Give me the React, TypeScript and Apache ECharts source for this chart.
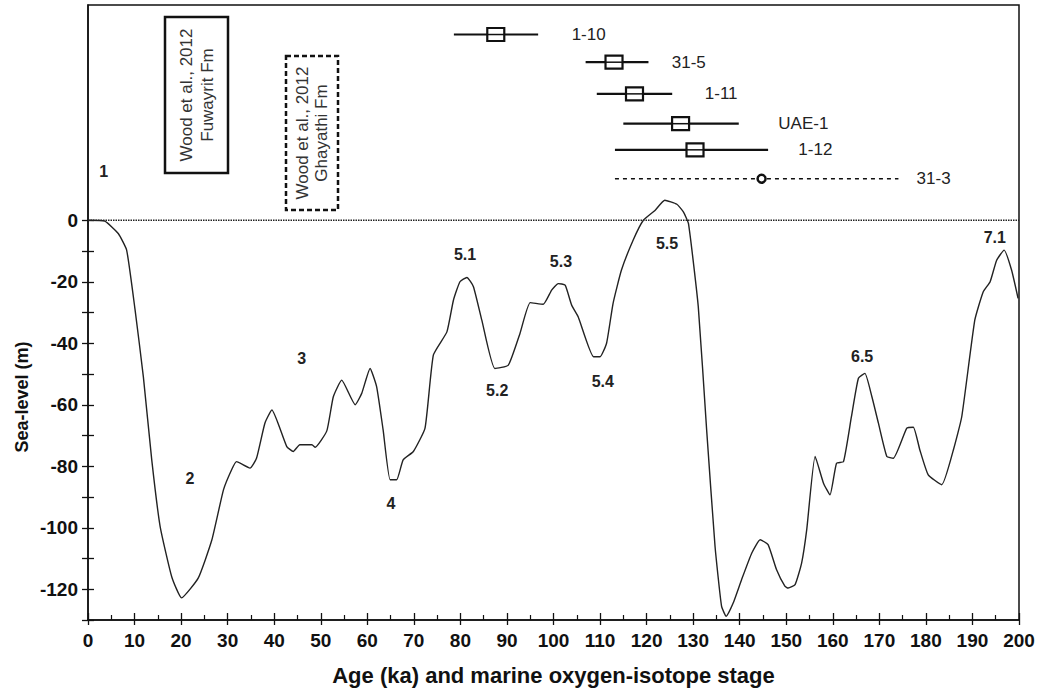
import React, { useEffect, useRef } from "react";
import * as echarts from "echarts";

// Sea-level curve (ka, m)
const ages = [0, 3.6, 6.5, 8.3, 10.1, 11.9, 13.7, 15.5, 18.0, 20.1, 23.7, 26.6, 29.1, 30.9, 31.9, 34.8, 36.2, 38.0, 39.5, 42.7, 44.1, 45.5, 48.1, 48.8, 51.3, 52.7, 54.5, 57.4, 58.8, 60.6, 62.0, 63.4, 64.9, 66.3, 67.7, 69.9, 72.4, 74.2, 77.1, 78.5, 79.9, 81.4, 82.8, 84.6, 87.4, 90.3, 92.8, 95.0, 97.8, 99.6, 101.0, 102.5, 103.9, 105.3, 108.6, 110.0, 111.4, 112.8, 114.6, 117.1, 119.3, 121.8, 123.9, 126.5, 127.9, 129.0, 131.1, 132.9, 134.7, 136.1, 137.1, 138.6, 140.4, 142.6, 144.4, 146.1, 147.9, 149.7, 150.4, 151.9, 153.3, 154.4, 156.2, 158.0, 159.4, 160.8, 162.3, 164.0, 165.5, 166.9, 168.4, 169.8, 171.6, 173.0, 175.9, 177.3, 178.7, 180.5, 183.4, 185.9, 187.7, 190.5, 192.3, 193.8, 195.2, 196.8, 198.4, 199.8];
const levels = [0, -0.3, -4.3, -9.7, -29, -51, -78, -99.6, -116, -122.8, -116.3, -104, -87.7, -81, -78.5, -80.6, -77.4, -66, -61.7, -73.6, -75.2, -73, -73, -73.8, -68.5, -57.4, -52, -60, -56.3, -48.2, -54.1, -68.2, -84.4, -84.4, -77.9, -75.2, -67.6, -43.8, -36.3, -26, -20, -18.6, -21.6, -32.5, -48.2, -47.1, -36.8, -26.8, -27.3, -22.7, -20.6, -21.1, -27.6, -31.4, -44.4, -44.4, -40, -27, -16.2, -6.5, 0, 3.2, 6.5, 5.2, 2.7, -1.1, -28.1, -68.2, -106, -125.5, -128.8, -124.5, -116.9, -108.2, -103.9, -105.5, -113.6, -119, -119.6, -118.5, -111.5, -100.6, -76.8, -85.5, -89.3, -79, -78.5, -63.9, -51.4, -49.8, -57.4, -66, -76.8, -77.4, -67.6, -67.3, -74.7, -82.8, -86, -74.7, -63.9, -32.5, -23.3, -20, -13, -9.7, -16.2, -25.4];

// Marine isotope stage labels
const stageNames = ["1", "2", "3", "4", "5.1", "5.2", "5.3", "5.4", "5.5", "6.5", "7.1"];
const stageAges = [3.4, 21.9, 45.9, 65.1, 81, 87.9, 101.6, 110.6, 124.4, 166.3, 194.8];
const stageLevels = [16, -84, -45, -92, -11, -55.5, -13.3, -52.6, -7.5, -44.2, -5.5];

// Dated samples (age with range)
const sampleNames = ["1-10", "31-5", "1-11", "UAE-1", "1-12", "31-3"];
const sampleAges = [87.6, 113.0, 117.4, 127.3, 130.4, 144.7];
const sampleLow = [78.6, 106.9, 109.3, 115.0, 113.2, 113.2];
const sampleHigh = [96.7, 120.4, 125.5, 139.8, 146.1, 174.1];
const sampleRows = [60.4, 51.4, 41.1, 31.4, 22.9, 13.5];
const sampleDashed = [0, 0, 0, 0, 0, 1];
const sampleLabelAges = [103.9, 125.4, 132.5, 148.3, 152.6, 178];

const xTicks = { min: 0, max: 200, interval: 10 };
const yTickValues = [-130, -120, -110, -100, -90, -80, -70, -60, -50, -40, -30, -20, -10, 0];
const yLabelValues = [-120, -100, -80, -60, -40, -20, 0];

const FONT = "Liberation Sans, Arial, Helvetica, sans-serif";

export default function App() {
  const ref = useRef<HTMLDivElement>(null);
  useEffect(() => {
    if (!ref.current) return;
    const chart = echarts.init(ref.current, null, { renderer: "svg" });
    const curve = ages.map((a, i) => [a, levels[i]]);
    const stages = stageNames.map((n, i) => [stageAges[i], stageLevels[i]]);
    const samples = sampleNames.map((n, i) => [sampleAges[i], sampleLow[i], sampleHigh[i], sampleRows[i], sampleDashed[i], sampleLabelAges[i]]);

    chart.setOption({
      animation: false,
      backgroundColor: "#fff",
      grid: { left: 88, right: 19, top: 5, bottom: 72, show: true, borderColor: "#111", borderWidth: 1.5, backgroundColor: "transparent" },
      xAxis: [
        {
          type: "value", position: "bottom", ...xTicks,
          axisLine: { show: true, onZero: false, lineStyle: { color: "#111", width: 1.5 } },
          axisTick: { show: true, inside: false, length: 5, lineStyle: { color: "#111", width: 1.3 } },
          axisLabel: { fontFamily: FONT, fontWeight: "bold", fontSize: 19, color: "#111", margin: 11, showMinLabel: true, showMaxLabel: true },
          splitLine: { show: false },
          name: "Age (ka) and marine oxygen-isotope stage",
          nameLocation: "middle", nameGap: 44,
          nameTextStyle: { fontFamily: FONT, fontWeight: "bold", fontSize: 22, color: "#111" },
        },
        {
          type: "value", position: "bottom", offset: 0, ...xTicks,
          axisLine: { show: false, onZero: false },
          axisTick: { show: true, inside: true, length: 7, lineStyle: { color: "#111", width: 1.3 } },
          minorTick: { show: true, splitNumber: 2, length: 5, lineStyle: { color: "#111", width: 1.2 } },
          axisLabel: { show: false },
          splitLine: { show: false },
        },
      ],
      yAxis: [
        {
          type: "value", position: "left", min: -130, max: 70, interval: 10,
          axisLine: { show: true, onZero: false, lineStyle: { color: "#111", width: 1.5 } },
          axisTick: { show: true, inside: false, length: 6, customValues: yTickValues, lineStyle: { color: "#111", width: 1.3 } },
          axisLabel: { customValues: yLabelValues, fontFamily: FONT, fontWeight: "bold", fontSize: 19, color: "#111", margin: 10 },
          splitLine: { show: false },
        },
        {
          type: "value", position: "left", offset: 0, min: -130, max: 70, interval: 10,
          axisLine: { show: false, onZero: false },
          axisTick: { show: true, inside: true, length: 6, customValues: yTickValues, lineStyle: { color: "#111", width: 1.3 } },
          axisLabel: { show: false },
          splitLine: { show: false },
        },
      ],
      graphic: [
        {
          type: "text", x: 22, y: 397, rotation: Math.PI / 2,
          style: { text: "Sea-level (m)", font: `bold 18px ${FONT}`, fill: "#111", align: "center", verticalAlign: "middle" },
        },
        { type: "rect", shape: { x: 165, y: 17, width: 63, height: 156 }, style: { fill: "none", stroke: "#111", lineWidth: 2.5 } },
        {
          type: "text", x: 197, y: 95, rotation: Math.PI / 2,
          style: { text: "Wood et al., 2012\nFuwayrit Fm", font: `17px ${FONT}`, lineHeight: 21, fill: "#333", align: "center", verticalAlign: "middle" },
        },
        { type: "rect", shape: { x: 286, y: 56, width: 52, height: 154 }, style: { fill: "none", stroke: "#111", lineWidth: 2.5, lineDash: [5, 3] } },
        {
          type: "text", x: 312, y: 133, rotation: Math.PI / 2,
          style: { text: "Wood et al., 2012\nGhayathi Fm", font: `17px ${FONT}`, lineHeight: 19, fill: "#333", align: "center", verticalAlign: "middle" },
        },
      ],
      series: [
        {
          type: "line", data: [[0, 0], [200, 0]], symbol: "none", silent: true,
          lineStyle: { color: "#222", width: 1.3, type: [1.5, 1] },
        },
        {
          type: "line", data: curve, symbol: "none", smooth: 0.15,
          lineStyle: { color: "#222", width: 1.4 },
        },
        {
          type: "custom", data: stages,
          renderItem: (params: any, api: any) => {
            const p = api.coord([api.value(0), api.value(1)]);
            return {
              type: "text", x: p[0], y: p[1],
              style: { text: stageNames[params.dataIndex], font: `bold 16px ${FONT}`, fill: "#222", align: "center", verticalAlign: "middle" },
            };
          },
        },
        {
          type: "custom", data: samples,
          renderItem: (params: any, api: any) => {
            const row = api.value(3);
            const c = api.coord([api.value(0), row]);
            const lo = api.coord([api.value(1), row]);
            const hi = api.coord([api.value(2), row]);
            const lab = api.coord([api.value(5), row]);
            const dashed = api.value(4) === 1;
            const children: any[] = [
              {
                type: "line", shape: { x1: lo[0], y1: lo[1], x2: hi[0], y2: hi[1] },
                style: { stroke: "#111", lineWidth: dashed ? 1.6 : 2.2, lineDash: dashed ? [4, 4] : null },
              },
            ];
            if (dashed) {
              children.push({ type: "circle", shape: { cx: c[0], cy: c[1], r: 4 }, style: { fill: "#fff", stroke: "#111", lineWidth: 2.5 } });
            } else {
              children.push({ type: "rect", shape: { x: c[0] - 8.5, y: c[1] - 6.5, width: 17, height: 13 }, style: { fill: "#fff", stroke: "#111", lineWidth: 2.2 } });
              children.push({ type: "line", shape: { x1: c[0] - 8.5, y1: c[1], x2: c[0] + 8.5, y2: c[1] }, style: { stroke: "#111", lineWidth: 1.5 } });
            }
            children.push({
              type: "text", x: lab[0], y: lab[1],
              style: { text: sampleNames[params.dataIndex], font: `17px ${FONT}`, fill: "#222", align: "left", verticalAlign: "middle" },
            });
            return { type: "group", children };
          },
        },
      ],
    });
    return () => chart.dispose();
  }, []);
  return <div ref={ref} style={{ position: "fixed", left: 0, top: 0, width: 1038, height: 692, background: "#fff" }} />;
}
